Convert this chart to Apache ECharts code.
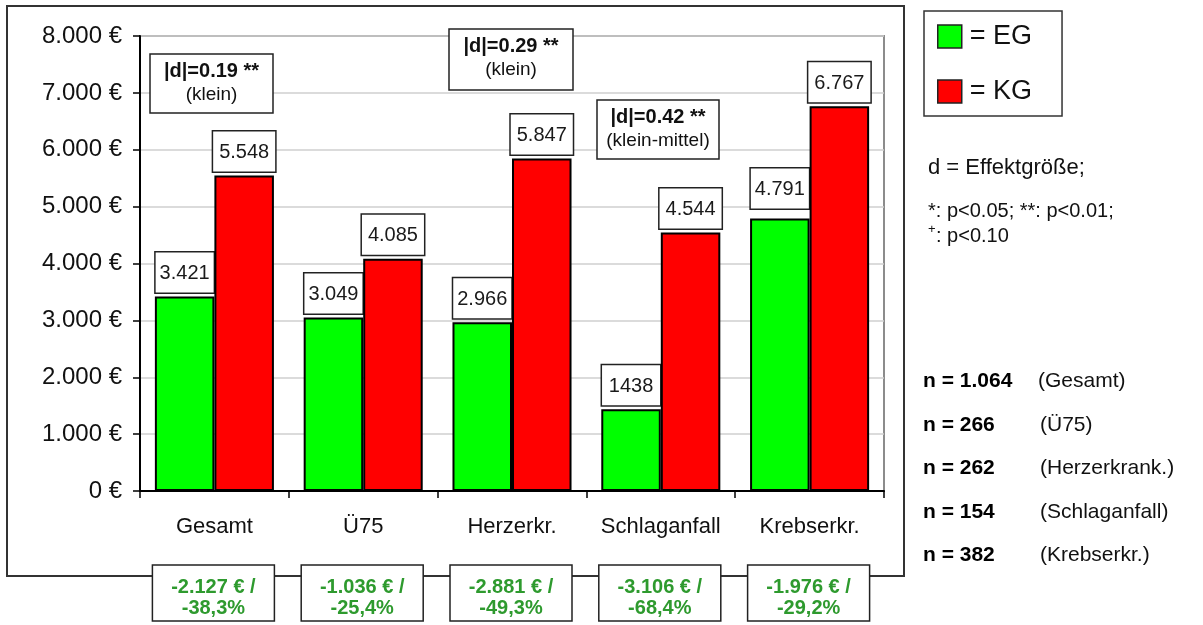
<!DOCTYPE html>
<html>
<head>
<meta charset="utf-8">
<script src="https://cdn.jsdelivr.net/npm/echarts@6/dist/echarts.min.js"></script>
<style>
  html, body { margin: 0; padding: 0; background: #fff; }
  #chart { width: 1203px; height: 625px; }
</style>
</head>
<body>
<div id="chart"></div>
<script>
// Kosten je Gruppe: EG (Interventionsgruppe) vs. KG (Kontrollgruppe)
const categories = ['Gesamt', 'Ü75', 'Herzerkr.', 'Schlaganfall', 'Krebserkr.'];
const egValues = [3421, 3049, 2966, 1438, 4791];
const kgValues = [5548, 4085, 5847, 4544, 6767];
const egLabels = ['3.421', '3.049', '2.966', '1438', '4.791'];
const kgLabels = ['5.548', '4.085', '5.847', '4.544', '6.767'];
const diffEuro = ['-2.127 € /', '-1.036 € /', '-2.881 € /', '-3.106 € /', '-1.976 € /'];
const diffPct = ['-38,3%', '-25,4%', '-49,3%', '-68,4%', '-29,2%'];
const effectD = ['|d|=0.19 **', '|d|=0.29 **', '|d|=0.42 **'];
const effectText = ['(klein)', '(klein)', '(klein-mittel)'];
const sampleN = ['n = 1.064', 'n = 266', 'n = 262', 'n = 154', 'n = 382'];
const sampleGroup = ['(Gesamt)', '(Ü75)', '(Herzerkrank.)', '(Schlaganfall)', '(Krebserkr.)'];
const yTicks = [0, 1000, 2000, 3000, 4000, 5000, 6000, 7000, 8000];

const FONT = '"Liberation Sans", Arial, sans-serif';
const NARROW = '"Liberation Sans Narrow", "Arial Narrow", "Liberation Sans", Arial, sans-serif';
const GREEN_TEXT = '#2e9a2e';

function euro(v) {
  const s = String(v).replace(/\B(?=(\d{3})+(?!\d))/g, '.');
  return s + ' €';
}

const chart = echarts.init(document.getElementById('chart'), null, { renderer: 'canvas' });

const valueLabel = (texts, w) => ({
  show: true,
  position: 'top',
  distance: 4,
  formatter: p => texts[p.dataIndex],
  fontFamily: FONT,
  fontSize: 20,
  color: '#1a1a1a',
  backgroundColor: '#fff',
  borderColor: '#222',
  borderWidth: 1.5,
  width: w,
  align: 'center',
  padding: [11, 6, 9, 6]
});

const option = {
  animation: false,
  backgroundColor: '#fff',
  grid: {
    left: 140, right: 319, top: 36, bottom: 134,
    show: true, borderColor: '#8c8c8c', borderWidth: 2, backgroundColor: 'transparent'
  },
  legend: {
    orient: 'vertical',
    left: 924, top: 11,
    data: ['EG', 'KG'],
    itemWidth: 24, itemHeight: 23, itemGap: 28,
    icon: 'rect',
    padding: [12, 30, 11, 13],
    borderColor: '#333', borderWidth: 1.5,
    formatter: n => '= ' + n,
    textStyle: { fontFamily: FONT, fontSize: 27, color: '#111', padding: [0, 0, 0, 3] },
    itemStyle: { borderColor: '#222', borderWidth: 1.5 }
  },
  xAxis: {
    type: 'category',
    data: categories,
    axisLine: { lineStyle: { color: '#000', width: 2 } },
    axisTick: { show: true, interval: 0, length: 7, lineStyle: { color: '#000', width: 1.5 } },
    axisLabel: { interval: 0, fontFamily: FONT, fontSize: 22, color: '#111', margin: 25 },
    splitLine: { show: false }
  },
  yAxis: {
    type: 'value',
    min: 0, max: 8000, interval: 1000,
    axisLine: { show: true, lineStyle: { color: '#000', width: 2 } },
    axisTick: { show: true, length: 7, lineStyle: { color: '#000', width: 1.5 } },
    axisLabel: {
      fontFamily: FONT, fontSize: 24, color: '#111', margin: 18,
      formatter: v => yTicks.includes(v) ? euro(v) : ''
    },
    splitLine: { show: true, lineStyle: { color: '#cfcfcf', width: 1.5 } }
  },
  series: [
    {
      name: 'EG', type: 'bar',
      data: egValues.map((v, i) => i === 4 ? { value: v, label: { distance: 10 } } : v),
      barWidth: '40%', barGap: '0%',
      itemStyle: { color: '#00ff00', borderColor: '#000', borderWidth: 2 },
      label: valueLabel(egLabels, 46),
      z: 2
    },
    {
      name: 'KG', type: 'bar',
      data: kgValues,
      barWidth: '40%', barGap: '0%',
      itemStyle: { color: '#ff0000', borderColor: '#000', borderWidth: 2 },
      label: valueLabel(kgLabels, 50),
      z: 3
    }
  ]
};

chart.setOption(option);

// Annotation boxes and side texts, placed after the axes exist
function buildGraphics() {
  const g = [];
  // Outer frame of the chart area
  g.push({
    type: 'rect', shape: { x: 7, y: 6, width: 897, height: 570 },
    style: { fill: 'none', stroke: '#333', lineWidth: 2 }, z: 0, silent: true
  });

  // Effect-size boxes (|d|)
  const effBoxes = [
    { x: 150, y: 54, w: 123, h: 59 },
    { x: 449, y: 29, w: 124, h: 61 },
    { x: 597, y: 100, w: 122, h: 59 }
  ];
  effBoxes.forEach((b, i) => {
    g.push({
      type: 'rect', shape: { x: b.x, y: b.y, width: b.w, height: b.h },
      style: { fill: '#fff', stroke: '#222', lineWidth: 1.5 }, z: 20
    });
    g.push({
      type: 'text', x: b.x + b.w / 2, y: b.y + 17, z: 21,
      style: { text: effectD[i], font: 'bold 20px ' + FONT, fill: '#111', align: 'center', verticalAlign: 'middle' }
    });
    g.push({
      type: 'text', x: b.x + b.w / 2, y: b.y + 41, z: 21,
      style: { text: effectText[i], font: '19px ' + FONT, fill: '#111', align: 'center', verticalAlign: 'middle' }
    });
  });

  // Difference boxes under each category
  categories.forEach((c, i) => {
    const cx = chart.convertToPixel({ xAxisIndex: 0 }, c) - 1;
    const w = 122;
    g.push({
      type: 'rect', shape: { x: cx - w / 2, y: 565, width: w, height: 56 },
      style: { fill: '#fff', stroke: '#222', lineWidth: 1.5 }, z: 20
    });
    g.push({
      type: 'text', x: cx, y: 587, z: 21,
      style: { text: diffEuro[i], font: 'bold 20px ' + NARROW, fill: GREEN_TEXT, align: 'center', verticalAlign: 'middle' }
    });
    g.push({
      type: 'text', x: cx, y: 608, z: 21,
      style: { text: diffPct[i], font: 'bold 20px ' + NARROW, fill: GREEN_TEXT, align: 'center', verticalAlign: 'middle' }
    });
  });

  // Notes on the right
  g.push({
    type: 'text', x: 928, y: 168,
    style: { text: 'd = Effektgröße;', font: '22px ' + FONT, fill: '#111', verticalAlign: 'middle' }
  });
  g.push({
    type: 'text', x: 928, y: 211,
    style: { text: '*: p<0.05; **: p<0.01;', font: '20px ' + FONT, fill: '#111', verticalAlign: 'middle' }
  });
  g.push({
    type: 'text', x: 928, y: 229,
    style: { text: '+', font: '13px ' + FONT, fill: '#111', verticalAlign: 'middle' }
  });
  g.push({
    type: 'text', x: 936, y: 236,
    style: { text: ': p<0.10', font: '20px ' + FONT, fill: '#111', verticalAlign: 'middle' }
  });

  const nY = [381, 425, 468, 512, 555];
  sampleN.forEach((t, i) => {
    g.push({
      type: 'text', x: 923, y: nY[i],
      style: { text: t, font: 'bold 21px ' + FONT, fill: '#000', verticalAlign: 'middle' }
    });
    g.push({
      type: 'text', x: i === 0 ? 1038 : 1040, y: nY[i],
      style: { text: sampleGroup[i], font: '21px ' + FONT, fill: '#111', verticalAlign: 'middle' }
    });
  });
  return g;
}

chart.setOption({ graphic: buildGraphics() });
</script>
</body>
</html>
